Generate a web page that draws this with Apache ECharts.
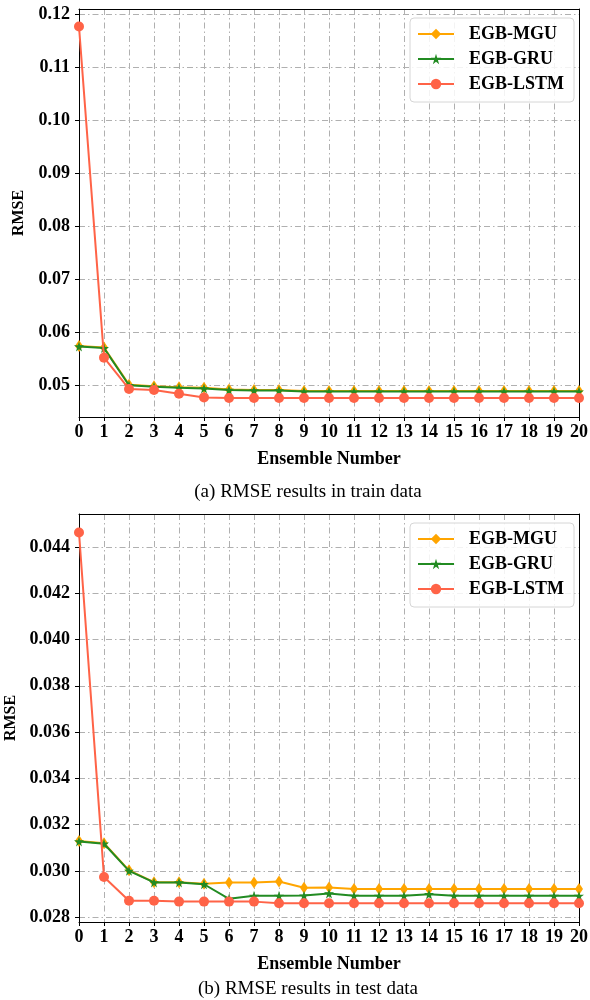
<!DOCTYPE html>
<html>
<head>
<meta charset="utf-8">
<script src="https://cdn.jsdelivr.net/npm/echarts@6/dist/echarts.min.js"></script>
<style>
  html, body { margin: 0; padding: 0; background: #fff; }
  #chart { width: 590px; height: 1000px; }
</style>
</head>
<body>
<div id="chart"></div>
<script>
// Ensemble sizes on the x axis
const ensembleNumbers = ['0','1','2','3','4','5','6','7','8','9','10','11','12','13','14','15','16','17','18','19','20'];

// RMSE on the training set
const trainMGU  = [0.0574, 0.0571, 0.0501, 0.0498, 0.0496, 0.0495, 0.0492, 0.0491, 0.0491, 0.0489, 0.0489,
                   0.0489, 0.0489, 0.0489, 0.0489, 0.0489, 0.0489, 0.0489, 0.0489, 0.0489, 0.0489];
const trainGRU  = [0.0573, 0.0570, 0.0500, 0.0497, 0.0495, 0.0494, 0.0491, 0.0490, 0.0490, 0.0488, 0.0488,
                   0.0488, 0.0488, 0.0488, 0.0488, 0.0488, 0.0488, 0.0488, 0.0488, 0.0488, 0.0488];
const trainLSTM = [0.1177, 0.0552, 0.0493, 0.0491, 0.0484, 0.0477, 0.0476, 0.0476, 0.0476, 0.0476, 0.0476,
                   0.0476, 0.0476, 0.0476, 0.0476, 0.0476, 0.0476, 0.0476, 0.0476, 0.0476, 0.0476];

// RMSE on the test set
const testMGU  = [0.03130, 0.03120, 0.03003, 0.02952, 0.02952, 0.02945, 0.02951, 0.02951, 0.02955, 0.02928, 0.02929,
                  0.02923, 0.02923, 0.02923, 0.02923, 0.02923, 0.02923, 0.02923, 0.02923, 0.02923, 0.02923];
const testGRU  = [0.03128, 0.03118, 0.03001, 0.02951, 0.02951, 0.02943, 0.02880, 0.02893, 0.02893, 0.02894, 0.02903,
                  0.02893, 0.02893, 0.02893, 0.02900, 0.02893, 0.02893, 0.02893, 0.02893, 0.02893, 0.02893];
const testLSTM = [0.04462, 0.02974, 0.02872, 0.02872, 0.02868, 0.02868, 0.02868, 0.02868, 0.02861, 0.02861, 0.02861,
                  0.02861, 0.02861, 0.02861, 0.02861, 0.02861, 0.02861, 0.02861, 0.02861, 0.02861, 0.02861];

// Tick labels on the y axes
const trainTicks = [0.05, 0.06, 0.07, 0.08, 0.09, 0.10, 0.11, 0.12];
const testTicks  = [0.028, 0.030, 0.032, 0.034, 0.036, 0.038, 0.040, 0.042, 0.044];

const seriesNames = ['EGB-MGU', 'EGB-GRU', 'EGB-LSTM'];
const captions = ['(a) RMSE results in train data', '(b) RMSE results in test data'];

const SERIF = '"Liberation Serif", "Times New Roman", serif';
const COLORS = ['#FFA500', '#228B22', '#FF6347'];
const STAR = 'path://M50,0 L61,35 L98,35 L68,57 L79,91 L50,70 L21,91 L32,57 L2,35 L39,35 Z';
const SYMBOLS = [['diamond', [8, 12]], [STAR, 10], ['circle', 10]];
const gridDash = { color: '#b0b0b0', width: 1, type: [6, 3, 1.5, 3] };

const panels = [
  { top: 9,   min: 0.044,  max: 0.121,   ticks: trainTicks, digits: 2, captionTop: 478, data: [trainMGU, trainGRU, trainLSTM] },
  { top: 514, min: 0.0278, max: 0.04542, ticks: testTicks,  digits: 3, captionTop: 975, data: [testMGU, testGRU, testLSTM] }
];
const PLOT_H = 408;

const grid = [], xAxis = [], yAxis = [], series = [], legend = [], title = [];

panels.forEach((p, i) => {
  grid.push({ left: 79, right: 11, top: p.top, height: PLOT_H, outerBoundsMode: 'none', containLabel: false });

  // bottom x axis with labels and name
  xAxis.push({
    type: 'category', gridIndex: i, data: ensembleNumbers, boundaryGap: false,
    name: 'Ensemble Number', nameLocation: 'middle', nameGap: 33,
    nameTextStyle: { fontFamily: SERIF, fontWeight: 'bold', fontSize: 18, color: '#000' },
    axisLine: { lineStyle: { color: '#000', width: 1 } },
    axisTick: { alignWithLabel: true, length: 4, lineStyle: { color: '#000' } },
    axisLabel: { fontFamily: SERIF, fontWeight: 'bold', fontSize: 18, color: '#000', margin: 6, interval: 0 },
    splitLine: { show: true, interval: idx => idx !== 0 && idx !== ensembleNumbers.length - 1, lineStyle: gridDash },
    z: 3
  });
  // top frame edge
  xAxis.push({
    type: 'category', gridIndex: i, data: ensembleNumbers, boundaryGap: false, position: 'top',
    axisLine: { onZero: false, lineStyle: { color: '#000', width: 1 } },
    axisTick: { show: false }, axisLabel: { show: false }, splitLine: { show: false }, z: 4
  });

  // left y axis with labels and name
  yAxis.push({
    type: 'value', gridIndex: i, min: p.min, max: p.max, splitNumber: p.ticks.length,
    name: 'RMSE', nameLocation: 'middle', nameGap: 52, nameRotate: 90,
    nameTextStyle: { fontFamily: SERIF, fontWeight: 'bold', fontSize: 16, color: '#000' },
    axisLine: { show: true, onZero: false, lineStyle: { color: '#000', width: 1 } },
    axisTick: { show: true, length: 4, customValues: p.ticks, lineStyle: { color: '#000' } },
    axisLabel: {
      fontFamily: SERIF, fontWeight: 'bold', fontSize: 18, color: '#000', margin: 9,
      customValues: p.ticks, formatter: v => v.toFixed(p.digits)
    },
    splitLine: { show: true, lineStyle: gridDash },
    z: 3
  });
  // right frame edge
  yAxis.push({
    type: 'value', gridIndex: i, min: p.min, max: p.max, position: 'right',
    axisLine: { show: true, onZero: false, lineStyle: { color: '#000', width: 1 } },
    axisTick: { show: false }, axisLabel: { show: false }, splitLine: { show: false }, z: 4
  });

  seriesNames.forEach((name, k) => {
    series.push({
      name, type: 'line', xAxisIndex: i * 2, yAxisIndex: i * 2,
      data: p.data[k],
      symbol: SYMBOLS[k][0], symbolSize: SYMBOLS[k][1], showAllSymbol: true,
      color: COLORS[k],
      lineStyle: { width: 2, color: COLORS[k] },
      itemStyle: { color: COLORS[k] },
      z: 5 + k, animation: false
    });
  });

  legend.push({
    data: seriesNames, orient: 'vertical', left: 410, top: p.top + 9,
    itemWidth: 36, itemHeight: 13, itemGap: 7,
    padding: [7, 10, 9, 7],
    backgroundColor: 'rgba(255,255,255,0.85)', borderColor: '#d6d6d6', borderWidth: 1, borderRadius: 4,
    textStyle: { fontFamily: SERIF, fontWeight: 'bold', fontSize: 18, color: '#000', padding: [0, 0, 0, 10] },
    selectedMode: false
  });

  title.push({
    text: captions[i], left: 303, top: p.captionTop, textAlign: 'center',
    textStyle: { fontFamily: SERIF, fontWeight: 'normal', fontSize: 19, color: '#000' }
  });
});

const chart = echarts.init(document.getElementById('chart'), null, { renderer: 'canvas' });
chart.setOption({ animation: false, backgroundColor: '#fff', grid, xAxis, yAxis, series, legend, title });
</script>
</body>
</html>
